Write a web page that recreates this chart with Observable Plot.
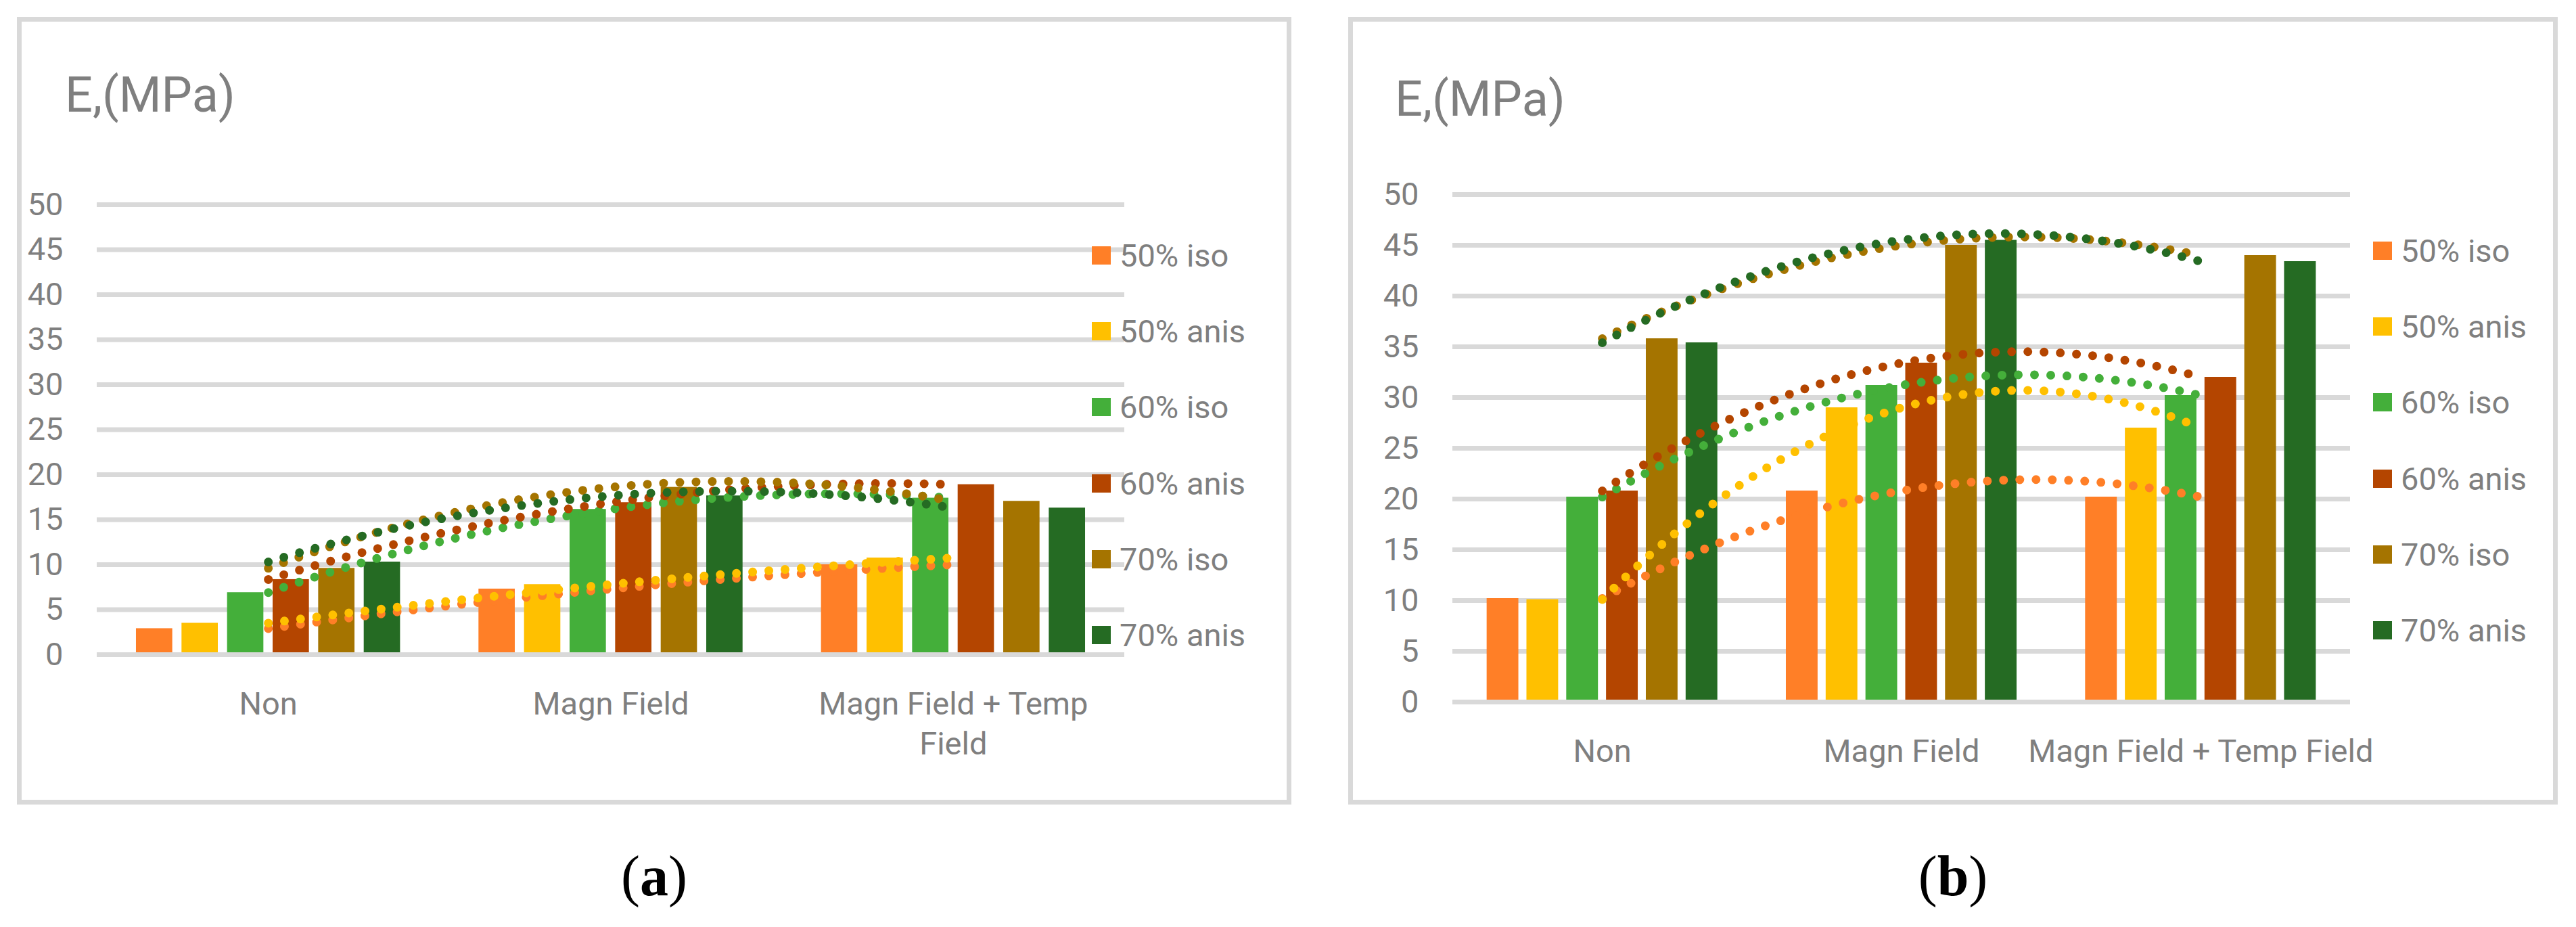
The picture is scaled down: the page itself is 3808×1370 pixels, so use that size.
<!doctype html>
<html>
<head>
<meta charset="utf-8">
<style>
  body { margin: 0; width: 3808px; height: 1370px; position: relative; overflow: hidden; background: #fff; font-family: Roboto, "Liberation Sans", sans-serif; }
  .panel { position: absolute; top: 25px; height: 1164px; box-sizing: border-box; border: 7px solid #d9d9d9; background: #fff; }
  .panel svg { position: absolute; left: 0; top: 0; }
  .title { position: absolute; color: #7f7f7f; font-size: 72px; line-height: 72px; white-space: nowrap; }
  .legend { position: absolute; }
  .legend .item { display: flex; align-items: center; height: 112.3px; color: #7f7f7f; font-size: 47px; white-space: nowrap; }
  .legend .swatch { width: 28px; height: 27px; margin-right: 13px; flex: none; }
  .caption { position: absolute; top: 1253px; font-family: "Liberation Serif", serif; font-size: 84px; line-height: 84px; text-align: center; color: #000; }
</style>
</head>
<body>
<div id="panelA" class="panel" style="left:25px;width:1884px"></div>
<div id="panelB" class="panel" style="left:1993px;width:1788px"></div>
<div class="caption" style="left:25px;width:1884px">(<b>a</b>)</div>
<div class="caption" style="left:1993px;width:1788px">(<b>b</b>)</div>
<script src="https://cdn.jsdelivr.net/npm/d3@7"></script>
<script src="https://cdn.jsdelivr.net/npm/@observablehq/plot@0.6"></script>
<script>
  const categories = ["Non", "Magn Field", "Magn Field + Temp Field"];
  const tickLabelsA = ["Non", "Magn Field", "Magn Field + Temp\nField"];
  const tickLabelsB = categories;
  const series = ["50% iso", "50% anis", "60% iso", "60% anis", "70% iso", "70% anis"];
  const colors = ["#ff7f27", "#ffc000", "#44af3a", "#b44500", "#a57400", "#256b23"];
  const yTicks = [0, 5, 10, 15, 20, 25, 30, 35, 40, 45, 50];

  // (a) values per series, one per category
  const a_iso50 = [2.9, 7.3, 10.0];
  const a_anis50 = [3.5, 7.8, 10.75];
  const a_iso60 = [6.9, 16.15, 17.4];
  const a_anis60 = [8.35, 16.9, 18.9];
  const a_iso70 = [9.6, 18.6, 17.05];
  const a_anis70 = [10.3, 17.65, 16.3];

  // (b)
  const b_iso50 = [10.2, 20.8, 20.2];
  const b_anis50 = [10.1, 29.0, 27.0];
  const b_iso60 = [20.2, 31.2, 30.2];
  const b_anis60 = [20.8, 33.4, 32.0];
  const b_iso70 = [35.8, 45.0, 44.0];
  const b_anis70 = [35.4, 45.5, 43.4];

  const GRID = "#d9d9d9";
  const STEP = 0.133; // bar spacing inside a category (category = 1 unit)
  const BAR = 0.106;  // bar width

  function barRows(vals) {
    return vals.flatMap((v, s) => v.map((value, c) => ({series: series[s], s, c, value})));
  }

  // order-2 polynomial trendline (exact fit through the 3 category values)
  function trendRows(vals) {
    const rows = [];
    vals.forEach((v, s) => {
      const b = (v[2] - v[0]) / 2;
      const a = (v[0] - 2 * v[1] + v[2]) / 2;
      for (let k = 0; k <= 100; k++) {
        const t = 1 + k / 50;
        rows.push({series: series[s], t, v: v[1] + b * (t - 2) + a * (t - 2) ** 2});
      }
    });
    return rows;
  }

  function chart(vals, labels, m) {
    return Plot.plot({
      width: m.width,
      height: m.height,
      marginLeft: m.left,
      marginRight: m.right,
      marginTop: m.top,
      marginBottom: m.bottom,
      x: {type: "linear", domain: [0.5, 3.5]},
      y: {domain: [0, 50]},
      color: {domain: series, range: colors},
      style: {fontFamily: "Roboto, 'Liberation Sans', sans-serif", color: "#7f7f7f", background: "transparent"},
      marks: [
        Plot.ruleY(yTicks.slice(1), {stroke: GRID, strokeWidth: 7}),
        Plot.rect(barRows(vals), {
          x1: (d) => d.c + 1 + (d.s - 2.5) * STEP - BAR / 2,
          x2: (d) => d.c + 1 + (d.s - 2.5) * STEP + BAR / 2,
          y1: 0,
          y2: "value",
          fill: "series"
        }),
        Plot.ruleY([0], {stroke: GRID, strokeWidth: 7}),
        Plot.line(trendRows(vals), {
          x: "t", y: "v", z: "series", stroke: "series",
          strokeWidth: 13, strokeDasharray: "0 24", strokeLinecap: "round"
        }),
        Plot.axisY(yTicks, {tickSize: 0, tickPadding: 50, fontSize: 47, label: null}),
        Plot.axisX([1, 2, 3], {
          tickSize: 0, tickPadding: 47, fontSize: 47, lineHeight: 1.25,
          tickFormat: (i) => labels[i - 1], label: null
        })
      ]
    });
  }

  function legend(el, left, top) {
    const div = document.createElement("div");
    div.className = "legend";
    div.style.left = left + "px";
    div.style.top = top + "px";
    series.forEach((name, i) => {
      const item = document.createElement("div");
      item.className = "item";
      item.innerHTML = `<span class="swatch" style="background:${colors[i]}"></span>${name}`;
      div.append(item);
    });
    el.append(div);
  }

  function title(el, left, top) {
    const div = document.createElement("div");
    div.className = "title";
    div.style.left = left + "px";
    div.style.top = top + "px";
    div.textContent = "E,(MPa)";
    el.append(div);
  }

  const panelA = document.querySelector("#panelA");
  panelA.append(chart([a_iso50, a_anis50, a_iso60, a_anis60, a_iso70, a_anis70], tickLabelsA,
    {width: 1870, height: 1150, left: 111, right: 240, top: 270, bottom: 215}));
  title(panelA, 64, 73);
  legend(panelA, 1582, 289);

  const panelB = document.querySelector("#panelB");
  panelB.append(chart([b_iso50, b_anis50, b_iso60, b_anis60, b_iso70, b_anis70], tickLabelsB,
    {width: 1774, height: 1150, left: 147, right: 300, top: 255, bottom: 145}));
  title(panelB, 62, 79);
  legend(panelB, 1508, 282);
</script>
</body>
</html>
